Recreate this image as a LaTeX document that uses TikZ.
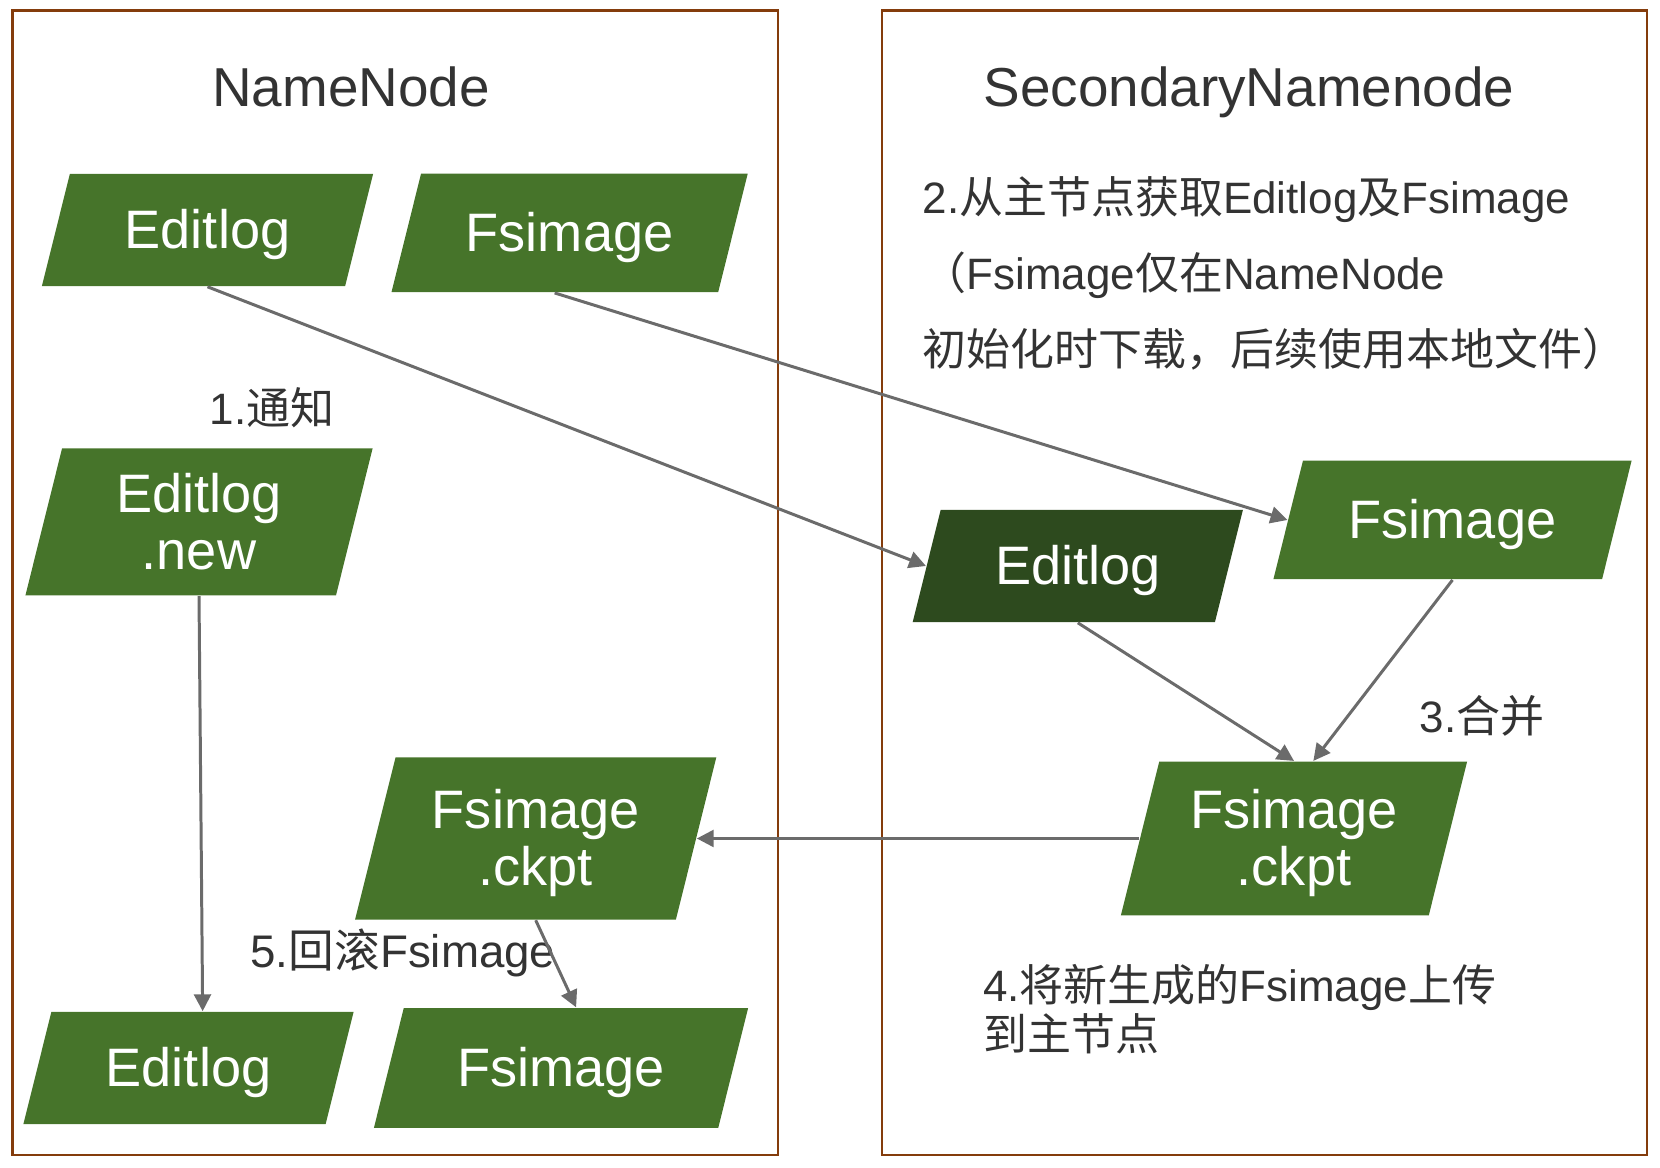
\documentclass[tikz,border=0pt]{standalone}
\usepackage{fontspec}
\setmainfont{Liberation Sans}
\newfontfamily\cjk{Noto Sans CJK SC}
\usetikzlibrary{arrows.meta,shapes.geometric}
\definecolor{frameBrown}{HTML}{843C0C}
\definecolor{boxGreen}{HTML}{46742A}
\definecolor{boxDark}{HTML}{2D4A1E}
\definecolor{linkGray}{HTML}{6B6B6B}
\definecolor{txtGray}{HTML}{333333}

\begin{document}
\begin{tikzpicture}[x=0.01cm, y=-0.01cm,
  every node/.style={inner sep=0pt},
  frame/.style={draw=frameBrown, line width=0.75pt},
  ttl/.style={font=\fontsize{15.6}{18}\selectfont, text=txtGray, anchor=base},
  lbl/.style={font=\fontsize{12.5}{15}\selectfont, text=txtGray, align=left},
  pbox/.style={trapezium, trapezium left angle=76, trapezium right angle=104,
    trapezium stretches body, fill=boxGreen, text=white,
    font=\fontsize{15.4}{16.2}\selectfont, align=center},
  link/.style={draw=linkGray, line width=0.85pt, -{Triangle[length=4.8pt, width=4.8pt]}}
]
\useasboundingbox (0,0) rectangle (1660,1168);
% frames
\draw[frame] (12.7,10.6) rectangle (778,1155);
\draw[frame] (882,10.6) rectangle (1647,1155);
\node[ttl] (nnTitle) at (351,107) {NameNode};
\node[ttl] (snTitle) at (1249,107) {SecondaryNamenode};

% NameNode side
\node[pbox, minimum width=3.31cm, text height=21.15pt, text depth=10.75pt] (nnEdit) at (207.5,230) {Editlog};
\node[pbox, minimum width=3.56cm, text height=22.05pt, text depth=11.65pt] (nnImg) at (569.6,233) {Fsimage};
\node[pbox, minimum width=3.47cm, text height=34.3pt, text depth=7.5pt] (nnEditNew) at (199,522) {Editlog\\.new};
\node[pbox, minimum width=3.61cm, text height=36.45pt, text depth=9.65pt] (nnCkpt) at (535.7,838.5) {Fsimage\\.ckpt};
\node[pbox, minimum width=3.30cm, text height=21.15pt, text depth=10.75pt] (nnEditOut) at (188.5,1068) {Editlog};
\node[pbox, minimum width=3.74cm, text height=22.25pt, text depth=11.85pt] (nnImgOut) at (561,1068) {Fsimage};

% SecondaryNamenode side
\node[pbox, minimum width=3.58cm, text height=22.05pt, text depth=11.65pt] (snImg) at (1452.5,520) {Fsimage};
\node[pbox, fill=boxDark, minimum width=3.30cm, text height=21.15pt, text depth=10.75pt] (snEdit) at (1077.8,566) {Editlog};
\node[pbox, minimum width=3.46cm, text height=35.25pt, text depth=8.45pt] (snCkpt) at (1294,838.5) {Fsimage\\.ckpt};

% step labels
\node[lbl] (stepNotify) at (272,408) {1.{\cjk 通知}};
\node[lbl, anchor=west, font=\fontsize{12.5}{21.6}\selectfont] (stepFetch) at (922,273.5)
  {2.{\cjk 从主节点获取}Editlog{\cjk 及}Fsimage\\{\cjk （}Fsimage{\cjk 仅在}NameNode\\{\cjk 初始化时下载，后续使用本地文件）}};
\node[lbl] (stepMerge) at (1482,716) {3.{\cjk 合并}};
\node[lbl, anchor=west, font=\fontsize{12.5}{13.9}\selectfont] (stepUpload) at (982.5,1009)
  {4.{\cjk 将新生成的}Fsimage{\cjk 上传}\\{\cjk 到主节点}};
\node[lbl, font=\fontsize{13}{15}\selectfont] (stepRoll) at (403,953) {5.{\cjk 回滚}Fsimage};

% connectors
\draw[link] (nnEdit.south) -- (snEdit.left side);
\draw[link] (nnImg.bottom side) -- (snImg.left side);
\draw[link] (nnEditNew.south) -- (nnEditOut.top side);
\draw[link] (snEdit.south) -- (snCkpt.north);
\draw[link] (snImg.south) -- (snCkpt.top side);
\draw[link] (snCkpt.left side) -- (nnCkpt.right side);
\draw[link] (nnCkpt.south) -- (nnImgOut.top side);
\end{tikzpicture}
\end{document}
